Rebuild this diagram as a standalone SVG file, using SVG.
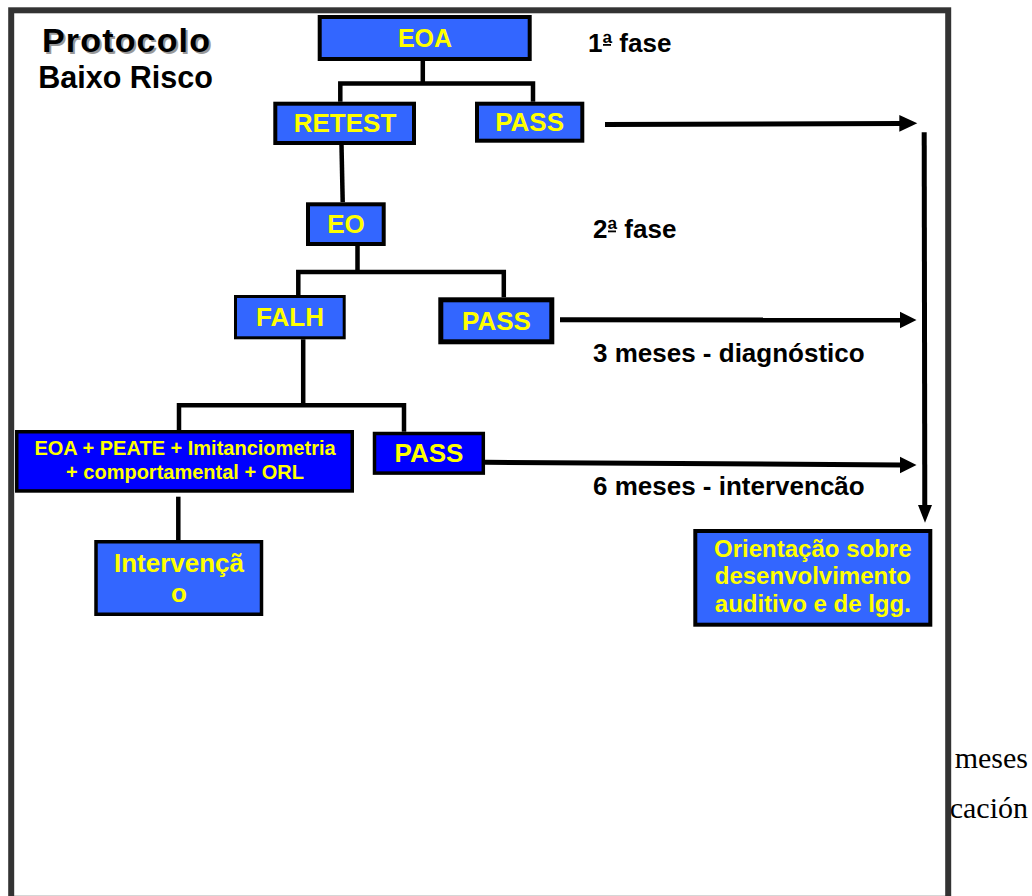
<svg xmlns="http://www.w3.org/2000/svg" width="1032" height="896" viewBox="0 0 1032 896">
<style>
.box{fill:#3366FF;stroke:#000;stroke-width:4}
.dbox{fill:#0000FF;stroke:#000;stroke-width:3.5}
.yt{font-family:"Liberation Sans",Arial,sans-serif;font-weight:bold;fill:#FFFF00;text-anchor:middle}
.bt{font-family:"Liberation Sans",Arial,sans-serif;font-weight:bold;fill:#000}
.ln{fill:none;stroke:#000;stroke-width:4.5}
.ar{fill:none;stroke:#000;stroke-width:5}
.ser{font-family:"Liberation Serif","Times New Roman",serif;font-size:30px;fill:#000;text-anchor:end}
</style>
<rect x="0" y="0" width="1032" height="896" fill="#fff"/>
<text class="ser" x="1028" y="768">meses</text>
<text class="ser" x="1028" y="818">cación</text>
<rect id="frame" x="11.2" y="10.3" width="937" height="888.5" fill="#fff" stroke="#333" stroke-width="6"/>
<g id="title">
<text class="bt" x="128" y="54" font-size="34" text-anchor="middle" textLength="168" style="fill:#999">Protocolo</text>
<text class="bt" x="126" y="52" font-size="34" text-anchor="middle" textLength="168">Protocolo</text>
<text class="bt" x="125.5" y="88" font-size="30.5" text-anchor="middle">Baixo Risco</text>
</g>
<g id="labels">
<text class="bt" x="588" y="51.5" font-size="26">1ª fase</text>
<rect x="603" y="44" width="8" height="1.8" fill="#000"/>
<text class="bt" x="593" y="238" font-size="26">2ª fase</text>
<rect x="608" y="230.5" width="8" height="1.8" fill="#000"/>
<text class="bt" x="593" y="362" font-size="26">3 meses - diagnóstico</text>
<text class="bt" x="593" y="495" font-size="26">6 meses - intervencão</text>
</g>
<g id="connectors">
<path class="ln" d="M422.8 61 V83.5 M340.3 101.7 V83.5 H533 V101.7"/>
<path class="ln" d="M341.5 145 L342.7 202.3"/>
<path class="ln" d="M357.5 246 V272 M298.3 295 V272 H503.8 V297.3"/>
<path class="ln" d="M303.2 339.3 V405.3 M179 430 V405.3 H404 V431.7"/>
<path class="ln" d="M178.3 496.7 V540"/>
<line class="ar" x1="605" y1="124.5" x2="901" y2="123.5"/>
<polygon points="899.3,115 917.3,123.3 899.3,131.7" fill="#000"/>
<line class="ar" x1="560" y1="319.7" x2="901" y2="320"/>
<polygon points="900,311.7 916.5,320 900,328.3" fill="#000"/>
<line class="ar" x1="485" y1="462.3" x2="901" y2="465"/>
<polygon points="900,456.7 916.5,465 900,473.3" fill="#000"/>
<line class="ar" x1="924.2" y1="132.3" x2="924.8" y2="507"/>
<polygon points="918,505 932,505 925,522.7" fill="#000"/>
</g>
<g id="n-eoa">
<rect class="box" x="319.7" y="17" width="210" height="42"/>
<text class="yt" x="425" y="47" font-size="25">EOA</text>
</g>
<g id="n-retest">
<rect class="box" x="275.3" y="103.7" width="138.7" height="39.3"/>
<text class="yt" x="345" y="132" font-size="26">RETEST</text>
</g>
<g id="n-pass1">
<rect class="box" x="477" y="103.7" width="105.3" height="37"/>
<text class="yt" x="529.6" y="131" font-size="26">PASS</text>
</g>
<g id="n-eo">
<rect class="box" x="308" y="204.3" width="75.7" height="39.7"/>
<text class="yt" x="346" y="233" font-size="26">EO</text>
</g>
<g id="n-falh">
<rect class="box" x="235.5" y="296.5" width="108.7" height="41.3" style="stroke-width:3"/>
<text class="yt" x="290" y="326" font-size="26">FALH</text>
</g>
<g id="n-pass2">
<rect class="box" x="440.8" y="299.8" width="111" height="42" style="stroke-width:5"/>
<text class="yt" x="496.5" y="330" font-size="26">PASS</text>
</g>
<g id="n-exams">
<rect class="dbox" x="16.75" y="431.75" width="335.5" height="59.2"/>
<text class="yt" x="185" y="455" font-size="20">EOA + PEATE + Imitanciometria</text>
<text class="yt" x="185" y="479" font-size="20">+ comportamental + ORL</text>
</g>
<g id="n-pass3">
<rect class="dbox" x="374.5" y="433.5" width="108.8" height="39.6"/>
<text class="yt" x="429" y="462" font-size="26">PASS</text>
</g>
<g id="n-intervencao">
<rect class="box" x="96" y="541.75" width="165.5" height="72.5" style="stroke-width:3.5"/>
<text class="yt" x="179" y="572" font-size="26">Intervençã</text>
<text class="yt" x="179" y="602" font-size="26">o</text>
</g>
<g id="n-orientacao">
<rect class="box" x="695.3" y="531" width="235" height="93.7"/>
<text class="yt" x="812.8" y="557" font-size="24">Orientação sobre</text>
<text class="yt" x="812.8" y="584" font-size="24">desenvolvimento</text>
<text class="yt" x="812.8" y="612" font-size="24">auditivo e de lgg.</text>
</g>
</svg>
